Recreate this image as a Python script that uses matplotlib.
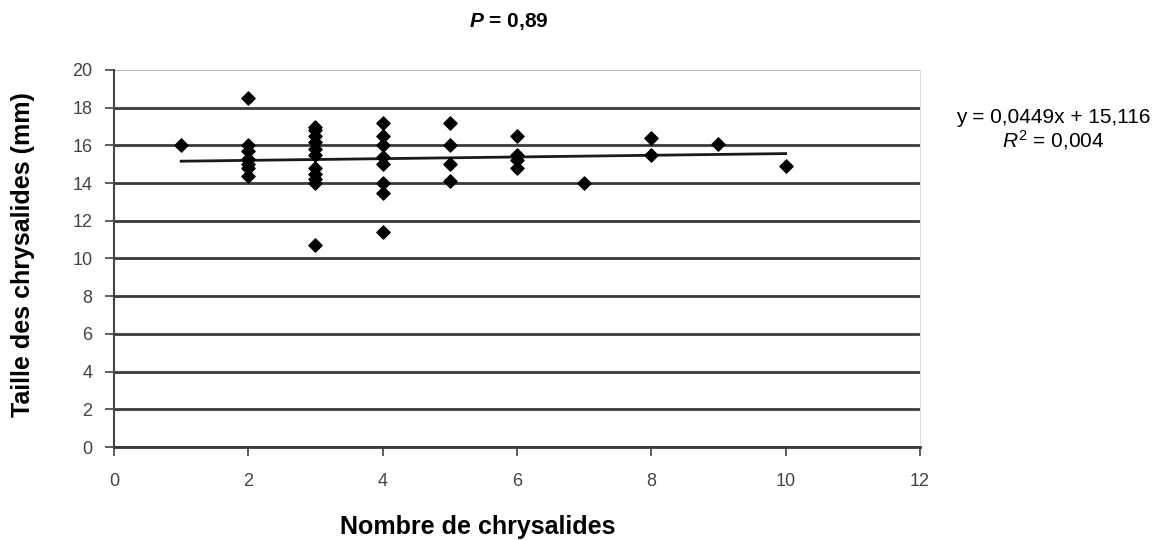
import numpy as np
import matplotlib.pyplot as plt

plt.rcParams['font.family'] = ['Liberation Sans', 'DejaVu Sans']
plt.rcParams['mathtext.fontset'] = 'custom'
plt.rcParams['mathtext.rm'] = 'Liberation Sans'
plt.rcParams['mathtext.it'] = 'Liberation Sans:italic'
plt.rcParams['mathtext.bf'] = 'Liberation Sans:bold'
plt.rcParams['mathtext.bfit'] = 'Liberation Sans:bold:italic'

# nombre de chrysalides / taille (mm)
x_vals = [1,
          2, 2, 2, 2, 2, 2, 2,
          3, 3, 3, 3, 3, 3, 3, 3, 3, 3, 3,
          4, 4, 4, 4, 4, 4, 4, 4,
          5, 5, 5, 5,
          6, 6, 6, 6,
          7,
          8, 8,
          9,
          10]
y_vals = [16.0,
          18.5, 16.0, 15.7, 15.3, 15.0, 14.8, 14.4,
          17.0, 16.8, 16.5, 16.2, 15.8, 15.5, 14.8, 14.5, 14.2, 14.0, 10.7,
          17.2, 16.5, 16.0, 15.4, 15.0, 14.0, 13.5, 11.4,
          17.2, 16.0, 15.0, 14.1,
          16.5, 15.5, 15.2, 14.8,
          14.0,
          16.4, 15.5,
          16.1,
          14.9]
slope = 0.0449
intercept = 15.116
x_ticks = [0, 2, 4, 6, 8, 10, 12]
y_ticks = [0, 2, 4, 6, 8, 10, 12, 14, 16, 18, 20]

fig = plt.figure(figsize=(11.62, 5.4), dpi=100)
ax = fig.add_axes([0.0981, 0.1722, 0.6936, 0.6982])

# grille
for yv in y_ticks[:-1]:
    ax.axhline(yv, color='#3a3a3a', lw=2.0, zorder=1)
ax.axhline(20, color='#bbbbbb', lw=1.5, zorder=1)

ax.scatter(x_vals, y_vals, marker='D', s=45, color='black', zorder=3)

xt = np.array([min(x_vals), max(x_vals)])
ax.plot(xt, slope * xt + intercept, color='#1a1a1a', lw=2.0, zorder=2)

ax.set_xlim(0, 12)
ax.set_ylim(0, 20)
ax.set_xticks(x_ticks)
ax.set_yticks(y_ticks)
ax.tick_params(axis='both', labelsize=13, colors='#444444', length=6.5, width=1.2)
ax.tick_params(axis='x', pad=12)
ax.tick_params(axis='y', pad=9)

ax.spines['top'].set_visible(False)
ax.spines['right'].set_color('#dddddd')
ax.spines['left'].set_color('#444444')
ax.spines['left'].set_linewidth(1.5)
ax.spines['bottom'].set_color('#3a3a3a')
ax.spines['bottom'].set_linewidth(2.0)

fig.text(0.411, 0.024, 'Nombre de chrysalides', fontsize=18, fontweight='bold',
         ha='center', va='center')
fig.text(0.02, 0.528, 'Taille des chrysalides (mm)', fontsize=18, fontweight='bold',
         ha='center', va='center', rotation=90)

fig.text(0.438, 0.961, r'$\mathbfit{P}$' + ' = 0,89', fontsize=15,
         fontweight='bold', ha='center', va='center')

fig.text(0.906, 0.783, 'y = 0,0449x + 15,116', fontsize=15, ha='center', va='center')
fig.text(0.906, 0.741, r'$\mathit{R}^{2}$' + ' = 0,004', fontsize=15, ha='center', va='center')

fig.savefig('out.png', dpi=100)
